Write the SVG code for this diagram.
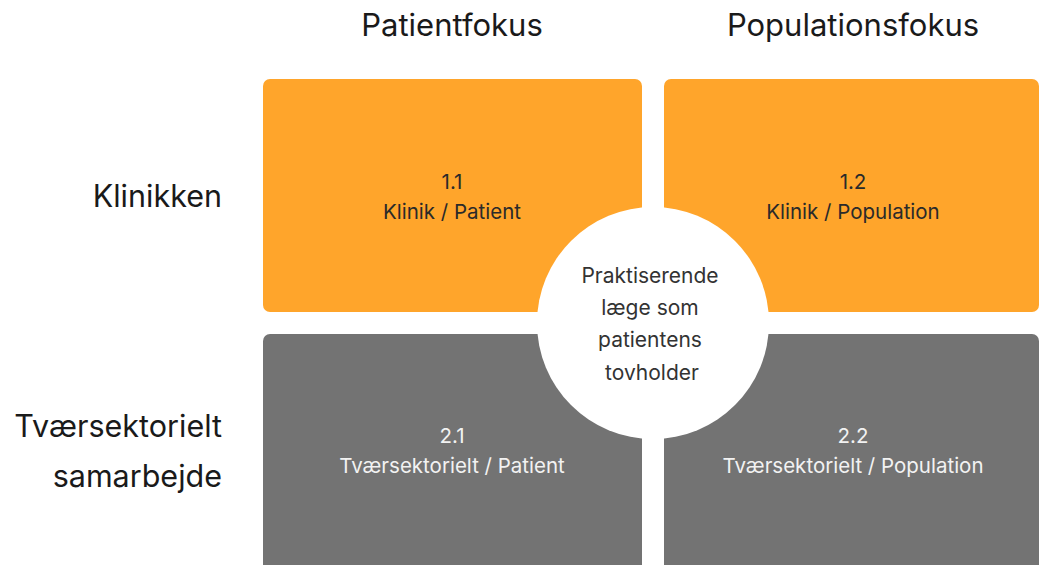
<svg xmlns="http://www.w3.org/2000/svg" width="1040" height="565" viewBox="0 0 1040 565">
<style>
.hdr{font-family:Inter,"Noto Sans",sans-serif;font-size:31px;fill:#1a1a1a;text-anchor:middle}
.row{font-family:Inter,"Noto Sans",sans-serif;font-size:30.5px;fill:#1a1a1a;text-anchor:end}
.or{fill:#FFA52B}
.gr{fill:#737373}
.t1{font-family:Inter,"Noto Sans",sans-serif;font-size:20.5px;fill:#2a2a2a;text-anchor:middle}
.t2{font-family:Inter,"Noto Sans",sans-serif;font-size:20.5px;fill:#f2f2f2;text-anchor:middle}
.tc{font-family:Inter,"Noto Sans",sans-serif;font-size:21px;fill:#333;text-anchor:middle}
</style>
<rect width="1040" height="565" fill="#fff"/>
<text class="hdr" x="452" y="36">Patientfokus</text>
<text class="hdr" x="853" y="36">Populationsfokus</text>
<text class="row" x="222" y="207">Klinikken</text>
<text class="row" x="222" y="437">Tværsektorielt</text>
<text class="row" x="222" y="487">samarbejde</text>
<g id="q11"><rect class="or" x="263" y="79" width="379" height="233" rx="7"/><text class="t1" x="452" y="189">1.1</text><text class="t1" x="452" y="219">Klinik / Patient</text></g>
<g id="q12"><rect class="or" x="664" y="79" width="375" height="233" rx="7"/><text class="t1" x="853" y="189">1.2</text><text class="t1" x="853" y="219">Klinik / Population</text></g>
<g id="q21"><rect class="gr" x="263" y="334" width="379" height="250" rx="7"/><text class="t2" x="452" y="443">2.1</text><text class="t2" x="452" y="473">Tværsektorielt / Patient</text></g>
<g id="q22"><rect class="gr" x="664" y="334" width="375" height="250" rx="7"/><text class="t2" x="853" y="443">2.2</text><text class="t2" x="853" y="473">Tværsektorielt / Population</text></g>
<g id="center"><circle cx="653" cy="323" r="116" fill="#fff"/>
<text class="tc" x="650" y="283">Praktiserende</text>
<text class="tc" x="650" y="315">læge som</text>
<text class="tc" x="650" y="347">patientens</text>
<text class="tc" x="652" y="380">tovholder</text></g>
<g id="connectors"/>
</svg>
